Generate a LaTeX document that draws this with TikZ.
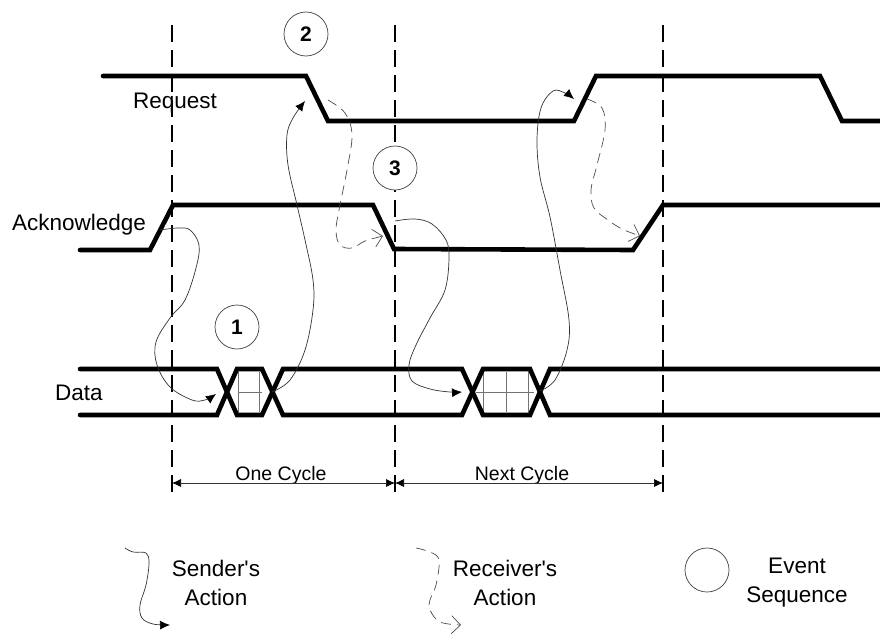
\documentclass[tikz,border=0pt]{standalone}
\usepackage{fontspec}
\setmainfont{Liberation Sans}
\newfontfamily\plainsans{Liberation Sans}
\usetikzlibrary{arrows.meta}
\tikzset{
  signal/.style={line width=4.6pt,line join=miter,line cap=round,black},
  grid line/.style={line width=0.7pt,black!55},
  cycle mark/.style={line width=1.4pt,dash pattern=on 17pt off 8pt,black},
  sender/.style={line width=0.7pt,black!80,-{Latex[length=10pt,width=9pt,black]}},
  receiver/.style={line width=0.7pt,black!70,dash pattern=on 10pt off 6pt,-{Straight Barb[length=9pt,width=18pt,line width=0.7pt]}},
  event/.style={circle,draw=black!75,fill=white,line width=0.7pt,minimum size=44pt,inner sep=0pt,font=\fontsize{21}{21}\selectfont\bfseries},
  label/.style={inner sep=0pt,font=\fontsize{22.5}{22.5}\selectfont},
  legend/.style={inner sep=0pt,align=center,font=\plainsans\fontsize{22.5}{29}\selectfont},
  small label/.style={inner sep=0pt,font=\fontsize{19.5}{19.5}\selectfont},
  span/.style={line width=0.7pt,black!80,{Latex[length=9pt,width=8pt,black]}-{Latex[length=9pt,width=8pt,black]}}
}
\begin{document}
\begin{tikzpicture}[x=1pt,y=-1pt]
\useasboundingbox (0,0) rectangle (880,634);
% cycle boundaries
\coordinate (c1t) at (172,25); \coordinate (c1b) at (172,498);
\coordinate (c2t) at (395,25);   \coordinate (c2b) at (395,498);
\coordinate (c3t) at (663,25);   \coordinate (c3b) at (663,498);
\draw[cycle mark] (c1t) -- (c1b);
\draw[cycle mark] (c2t) -- (c2b);
\draw[cycle mark] (c3t) -- (c3b);
% data hatching
\draw[grid line] (238,392) -- (262,392) (238,372) -- (238,412) (259,372) -- (259,412);
\draw[grid line] (476,392) -- (534,392) (483,372) -- (483,412) (506,372) -- (506,412) (528,372) -- (528,412);
% signals
\draw[signal] (103,76) -- (306,76) -- (328,121) -- (574,121) -- (596,76) -- (820,76) -- (842,121) -- (880,121);
\draw[signal] (80,250) -- (150,250) -- (173,205) -- (373,205) -- (394,249) -- (633,250) -- (663,205) -- (880,205);
\draw[signal] (80,369) -- (217,369) -- (237,415) -- (262,415) -- (283,369) -- (462,369) -- (483,415) -- (530,415) -- (550,369) -- (880,369);
\draw[signal] (80,415) -- (217,415) -- (237,369) -- (262,369) -- (283,415) -- (462,415) -- (483,369) -- (530,369) -- (550,415) -- (880,415);
% event circles
\node[event] (e2) at (306,34) {2};
\node[event] (e3) at (395,168) {3};
\node[event] (e1) at (237,327) {1};
\node[event] (e0) at (707,570) {};
% labels
\node[label] (lreq) at (175,103) {Request};
\node[label] (lack) at (79,225) {Acknowledge};
\node[label] (ldat) at (79,393) {Data};
\node[small label] (lone) at (281,475) {One Cycle};
\node[small label] (lnext) at (522,475) {Next Cycle};
\node[legend] (ls) at (216,583) {Sender's\\Action};
\node[legend] (lr) at (505,583) {Receiver's\\Action};
\node[legend] (le) at (797,583) {Event\\Sequence};
% cycle spans
\coordinate (s1) at (172,483); \coordinate (s2) at (395,483); \coordinate (s3) at (663,483);
\draw[span] (s1) -- (s2);
\draw[span] (s2) -- (s3);
% sender's actions
\draw[sender] plot[smooth,tension=0.6] coordinates {(160,230) (178,228) (190,230) (199,245) (196,268) (185,300) (170,318) (156,342) (157,365) (170,387) (192,400) (205,400) (216,394)};
\draw[sender] plot[smooth,tension=0.6] coordinates {(272,392) (290,380) (305,350) (313,310) (313,280) (305,240) (297,205) (288,165) (287,135) (293,118) (305,101)};
\draw[sender] plot[smooth,tension=0.6] coordinates {(395,221) (415,219) (432,224) (446,240) (449,258) (445,290) (430,318) (416,345) (409,365) (412,381) (430,389) (450,392) (462,392)};
\draw[sender] plot[smooth,tension=0.6] coordinates {(540,391) (555,380) (567,350) (569,320) (560,270) (550,217) (540,177) (537,140) (541,108) (553,91) (565,93) (574,99)};
% receiver's actions
\draw[receiver] plot[smooth,tension=0.6] coordinates {(328,100) (345,113) (352,135) (347,170) (340,205) (336,230) (340,245) (352,248) (365,241) (383,236)};
\draw[receiver] plot[smooth,tension=0.6] coordinates {(587,99) (602,108) (605,130) (597,165) (591,190) (594,208) (608,220) (622,229) (640,236)};
% legend curves
\draw[sender] plot[smooth,tension=0.6] coordinates {(125,548) (133,552) (146,553) (149,563) (146,585) (140,605) (142,618) (153,624) (170,625)};
\draw[receiver] plot[smooth,tension=0.6] coordinates {(416,548) (430,552) (439,560) (436,585) (430,600) (430,610) (440,622) (461,625)};
\end{tikzpicture}
\end{document}
